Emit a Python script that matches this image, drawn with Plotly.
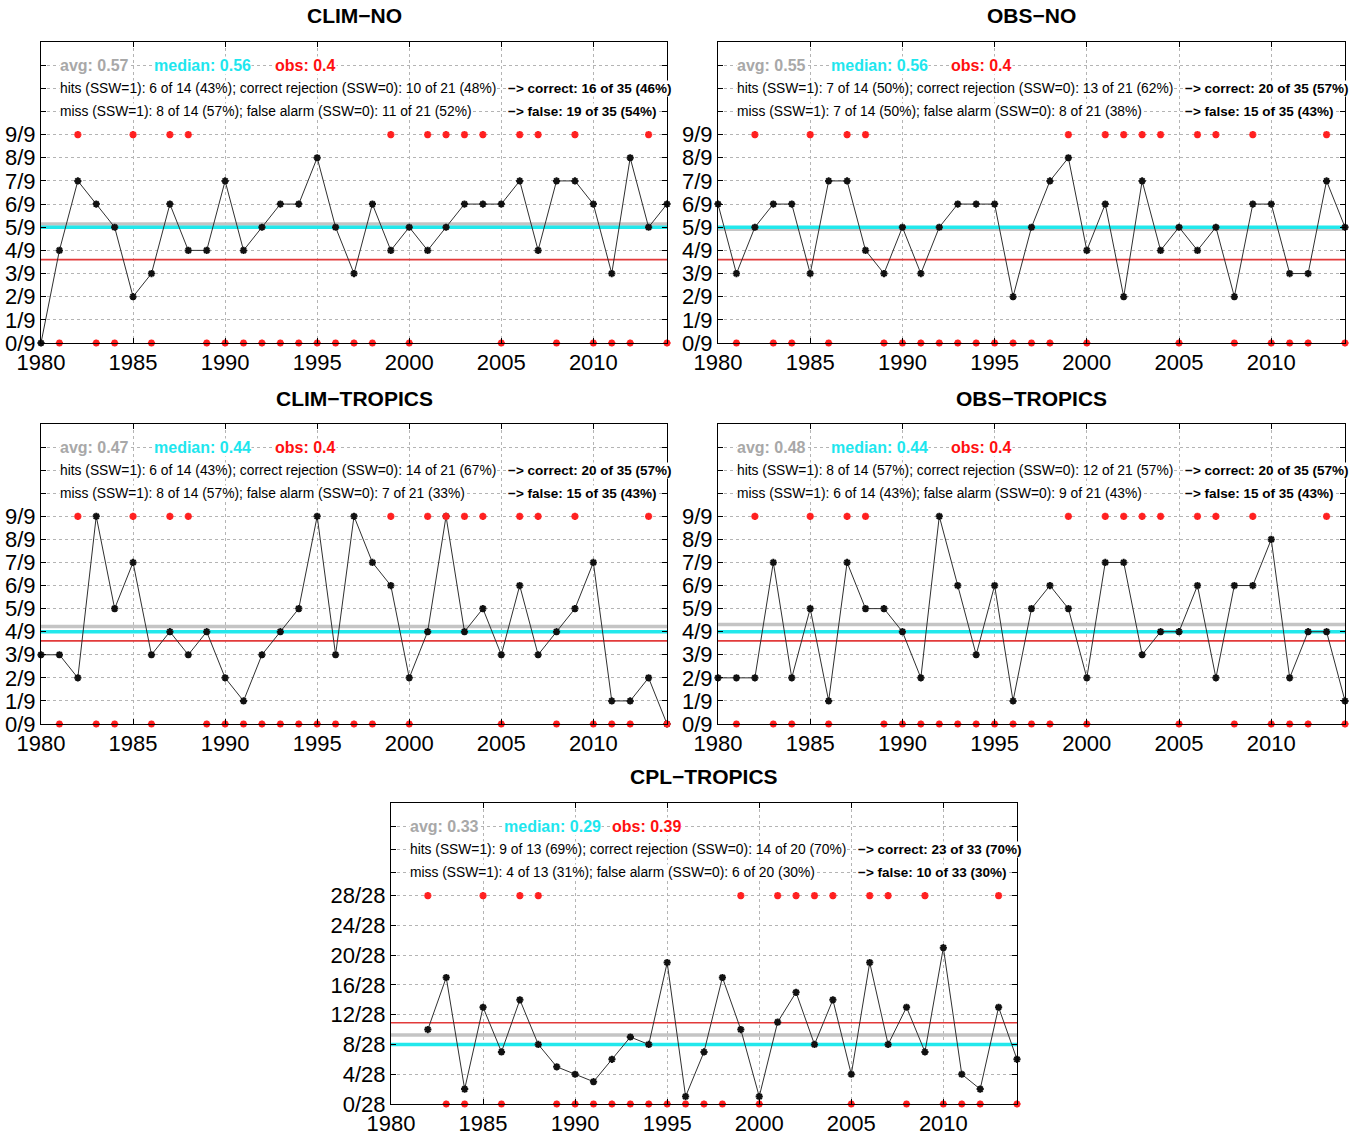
import plotly.graph_objects as go
import numpy as np

W, H = 1358, 1135

# ---------------- data ----------------
years_full = list(range(1980, 2015))
years_cpl = list(range(1982, 2015))
ssw_years = [1982, 1985, 1987, 1988, 1999, 2001, 2002, 2003, 2004, 2006, 2007, 2009, 2013]
nossw_years_full = [1981, 1983, 1984, 1986, 1989, 1990, 1991, 1992, 1993, 1994, 1995, 1996,
                    1997, 1998, 2000, 2005, 2008, 2010, 2011, 2012, 2014]
nossw_years_cpl = [1983, 1984, 1986, 1989, 1990, 1991, 1992, 1993, 1994, 1995, 1996,
                   1997, 1998, 2000, 2005, 2008, 2010, 2011, 2012, 2014]

clim_no = [0, 4, 7, 6, 5, 2, 3, 6, 4, 4, 7, 4, 5, 6, 6, 8, 5, 3, 6, 4, 5, 4, 5, 6, 6, 6,
           7, 4, 7, 7, 6, 3, 8, 5, 6]
obs_no = [6, 3, 5, 6, 6, 3, 7, 7, 4, 3, 5, 3, 5, 6, 6, 6, 2, 5, 7, 8, 4, 6, 2, 7, 4, 5,
          4, 5, 2, 6, 6, 3, 3, 7, 5]
clim_tropics = [3, 3, 2, 9, 5, 7, 3, 4, 3, 4, 2, 1, 3, 4, 5, 9, 3, 9, 7, 6, 2, 4, 9, 4, 5,
                3, 6, 3, 4, 5, 7, 1, 1, 2, 0]
obs_tropics = [2, 2, 2, 7, 2, 5, 1, 7, 5, 5, 4, 2, 9, 6, 3, 6, 1, 5, 6, 5, 2, 7, 7, 3, 4,
               4, 6, 2, 6, 6, 8, 2, 4, 4, 1]
cpl_tropics = [10, 17, 2, 13, 7, 14, 8, 5, 4, 3, 6, 9, 8, 19, 1, 7, 17, 10, 1, 11, 15, 8,
               14, 4, 19, 8, 13, 7, 21, 4, 2, 13, 6]

titles = ["CLIM\u2212NO", "OBS\u2212NO", "CLIM\u2212TROPICS", "OBS\u2212TROPICS", "CPL\u2212TROPICS"]
members = [9, 9, 9, 9, 28]
obs_frac = [0.4, 0.4, 0.4, 0.4, 0.39]
avg_labels = ["avg: 0.57", "avg: 0.55", "avg: 0.47", "avg: 0.48", "avg: 0.33"]
median_labels = ["median: 0.56", "median: 0.56", "median: 0.44", "median: 0.44", "median: 0.29"]
obs_labels = ["obs: 0.4", "obs: 0.4", "obs: 0.4", "obs: 0.4", "obs: 0.39"]
hits_labels = [
    "hits (SSW=1): 6 of 14 (43%); correct rejection (SSW=0): 10 of 21 (48%)",
    "hits (SSW=1): 7 of 14 (50%); correct rejection (SSW=0): 13 of 21 (62%)",
    "hits (SSW=1): 6 of 14 (43%); correct rejection (SSW=0): 14 of 21 (67%)",
    "hits (SSW=1): 8 of 14 (57%); correct rejection (SSW=0): 12 of 21 (57%)",
    "hits (SSW=1): 9 of 13 (69%); correct rejection (SSW=0): 14 of 20 (70%)",
]
miss_labels = [
    "miss (SSW=1): 8 of 14 (57%); false alarm (SSW=0): 11 of 21 (52%)",
    "miss (SSW=1): 7 of 14 (50%); false alarm (SSW=0): 8 of 21 (38%)",
    "miss (SSW=1): 8 of 14 (57%); false alarm (SSW=0): 7 of 21 (33%)",
    "miss (SSW=1): 6 of 14 (43%); false alarm (SSW=0): 9 of 21 (43%)",
    "miss (SSW=1): 4 of 13 (31%); false alarm (SSW=0): 6 of 20 (30%)",
]
correct_labels = ["\u2212> correct: 16 of 35 (46%)", "\u2212> correct: 20 of 35 (57%)",
                  "\u2212> correct: 20 of 35 (57%)", "\u2212> correct: 20 of 35 (57%)",
                  "\u2212> correct: 23 of 33 (70%)"]
false_labels = ["\u2212> false: 19 of 35 (54%)", "\u2212> false: 15 of 35 (43%)",
                "\u2212> false: 15 of 35 (43%)", "\u2212> false: 15 of 35 (43%)",
                "\u2212> false: 10 of 33 (30%)"]

series = [clim_no, obs_no, clim_tropics, obs_tropics, cpl_tropics]
series_years = [years_full, years_full, years_full, years_full, years_cpl]
series_nossw = [nossw_years_full] * 4 + [nossw_years_cpl]

# ---------------- layout (pixels) ----------------
boxes = [(41, 667, 42, 343), (718, 1345, 42, 343), (41, 667, 424, 724),
         (718, 1345, 424, 724), (391, 1017, 803, 1104)]
obs_text_off = [233, 232, 233, 232, 220]

FONT = "Liberation Sans, Arial, Helvetica, sans-serif"
YMAX = 13 / 9
RED = "#ff2020"
BLK = "#111111"

fig = go.Figure()
annotations = []
layout_axes = {}

for i in range(5):
    n = i + 1
    xa = "x" if n == 1 else f"x{n}"
    ya = "y" if n == 1 else f"y{n}"
    l, r, t, b = boxes[i]
    m = members[i]
    vals = np.array(series[i], dtype=float) / m
    yrs = series_years[i]
    avg = float(np.mean(vals))
    med = float(np.median(vals))

    # horizontal reference lines
    for yv, col, wd in [(avg, "#c4c4c4", 3.5), (med, "#22e8ec", 3.5), (obs_frac[i], "#e23a3a", 1.6)]:
        fig.add_trace(go.Scatter(x=[1980, 2014], y=[yv, yv], mode="lines",
                                 line=dict(color=col, width=wd), xaxis=xa, yaxis=ya,
                                 showlegend=False, hoverinfo="skip"))
    # data series
    fig.add_trace(go.Scatter(x=yrs, y=vals, mode="lines+markers",
                             line=dict(color="#303030", width=1),
                             marker=dict(symbol="asterisk-open", size=6, color=BLK,
                                         line=dict(color=BLK, width=2)),
                             xaxis=xa, yaxis=ya, showlegend=False, cliponaxis=False))
    # SSW markers
    fig.add_trace(go.Scatter(x=ssw_years, y=[1.0] * len(ssw_years), mode="markers",
                             marker=dict(symbol="asterisk-open", size=6, color=RED,
                                         line=dict(color=RED, width=2.2)),
                             xaxis=xa, yaxis=ya, showlegend=False, cliponaxis=False))
    fig.add_trace(go.Scatter(x=series_nossw[i], y=[0.0] * len(series_nossw[i]), mode="markers",
                             marker=dict(symbol="asterisk-open", size=6, color=RED,
                                         line=dict(color=RED, width=2.2)),
                             xaxis=xa, yaxis=ya, showlegend=False, cliponaxis=False))

    if m == 9:
        tv = [k / 9 for k in range(14)]
        tt = [f"{k}/9" if k <= 9 else "" for k in range(14)]
    else:
        tv = [k * 4 / 28 for k in range(8)] + [10 / 9, 11 / 9, 12 / 9, 13 / 9]
        tt = [f"{k * 4}/28" for k in range(8)] + ["", "", "", ""]

    axis_common = dict(showline=True, linecolor="black", linewidth=1, mirror="ticks",
                       ticks="inside", ticklen=5, tickcolor="black", automargin=False,
                       showgrid=True, gridcolor="#b4b4b4", gridwidth=1, griddash="dot",
                       zeroline=False, tickfont=dict(family=FONT, size=22, color="black"))
    layout_axes["xaxis" if n == 1 else f"xaxis{n}"] = dict(
        domain=[l / W, r / W], range=[1980, 2014], anchor=ya,
        tickvals=[1980, 1985, 1990, 1995, 2000, 2005, 2010], **axis_common)
    layout_axes["yaxis" if n == 1 else f"yaxis{n}"] = dict(
        domain=[1 - b / H, 1 - t / H], range=[0, YMAX], anchor=xa,
        tickvals=tv, ticktext=tt, **axis_common)

    # title
    annotations.append(dict(text=f"<b>{titles[i]}</b>", xref="paper", yref="paper",
                            x=(l + r) / 2 / W, y=1 - (t - 26) / H, xanchor="center",
                            yanchor="middle", showarrow=False,
                            font=dict(family=FONT, size=21, color="black")))
    # stats texts
    row1, row2, row3 = 12 / 9, 11 / 9, 10 / 9
    for txt, off, yy, col, sz, bold in [
        (avg_labels[i], 18, row1, "#a8a8a8", 16, True),
        (median_labels[i], 112, row1, "#1ee6ee", 16, True),
        (obs_labels[i], obs_text_off[i], row1, "#ff1010", 16, True),
        (hits_labels[i], 18, row2, "black", 13.8, False),
        (correct_labels[i], 466, row2, "black", 13.5, True),
        (miss_labels[i], 18, row3, "black", 13.8, False),
        (false_labels[i], 466, row3, "black", 13.5, True),
    ]:
        annotations.append(dict(text=f"<b>{txt}</b>" if bold else txt,
                                xref="paper", yref=ya, x=(l + off) / W, y=yy,
                                xanchor="left", yanchor="middle", showarrow=False,
                                bgcolor="white", borderpad=0,
                                font=dict(family=FONT, size=sz, color=col)))

fig.update_layout(width=W, height=H, margin=dict(l=0, r=0, t=0, b=0),
                  plot_bgcolor="white", paper_bgcolor="white",
                  annotations=annotations, **layout_axes)

fig.write_html("out.html")
